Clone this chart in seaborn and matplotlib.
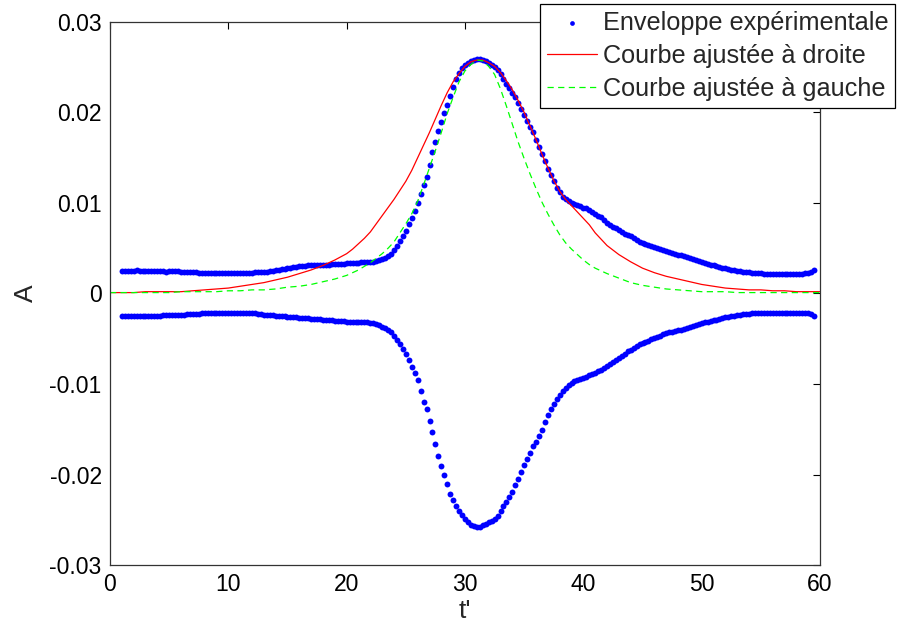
import numpy as np
import seaborn as sns
import matplotlib.pyplot as plt

# experimental envelope, sampled every 0.25 from t'=1 to t'=59.5 (values x 1e-4)
t_env = np.arange(1.0, 59.51, 0.25)
upper = [
    25, 25, 25, 25,  25, 26, 25, 25,  25, 25, 25, 25,  25, 25, 25, 24,  25, 25, 25, 25,
    24, 24, 24, 24,  24, 24, 23, 23,  23, 23, 23, 23,  23, 23, 23, 23,  23, 23, 23, 23,
    23, 23, 23, 23,  23, 24, 24, 24,  24, 24, 25, 25,  26, 26, 27, 27,  28, 28, 29, 29,
    30, 30, 30, 31,  31, 31, 31, 32,  32, 32, 32, 33,  33, 33, 33, 33,  34, 34, 34, 34,
    34, 35, 35, 35,  35, 35, 36, 37,  38, 39, 41, 44,  48, 53, 58, 63,  69, 77, 83, 91,
    100, 110, 120, 129,  142, 156, 167, 179,  190, 199, 208, 218,  228, 237, 244, 249,
    253, 255, 257, 258,  259, 259, 258, 257,  255, 253, 250, 247,  243, 237, 232, 227,
    222, 217, 210, 204,  197, 191, 184, 178,  170, 162, 154, 146,  138, 131, 124, 117,
    112, 107, 104, 102,  100, 99, 98, 97,  95, 94, 92, 90,  88, 86, 84, 81,  78, 76, 74, 72,
    70, 68, 66, 65,  63, 61, 59, 57,  56, 55, 54, 52,  51, 50, 49, 48,  47, 46, 45, 44,
    43, 42, 41, 40,  39, 38, 37, 36,  35, 34, 33, 32,  31, 30, 29, 28,  28, 27, 26, 26,
    25, 25, 24, 24,  24, 23, 23, 23,  23, 22, 22, 22,  22, 22, 22, 22,  22, 22, 22, 22,
    22, 22, 22, 23,  23, 24, 26,
]
lower = [
    -25, -25, -25, -25,  -25, -25, -25, -25,  -25, -25, -25, -25,  -25, -25, -24, -24,
    -24, -24, -24, -24,  -24, -24, -23, -23,  -23, -23, -23, -22,  -22, -22, -22, -22,
    -21, -21, -21, -21,  -21, -21, -21, -21,  -21, -21, -22, -22,  -22, -22, -23, -23,
    -24, -24, -24, -24,  -25, -25, -25, -25,  -26, -26, -26, -26,  -27, -27, -27, -27,
    -28, -28, -28, -28,  -29, -29, -29, -29,  -30, -30, -30, -30,  -31, -31, -31, -31,
    -32, -32, -32, -32,  -33, -33, -34, -35,  -37, -38, -40, -43,  -47, -51, -56, -61,
    -67, -74, -81, -88,  -96, -108, -120, -128,  -141, -153, -166, -180,
    -191, -200, -211, -221,  -228, -235, -240, -245,  -249, -253, -256, -257,
    -258, -258, -256, -255,  -253, -251, -249, -246,  -240, -235, -230, -225,
    -219, -212, -205, -197,  -190, -183, -176, -169,  -164, -158, -151, -142,
    -134, -128, -122, -117,  -112, -108, -104, -101,  -99, -97, -96, -94,
    -93, -92, -90, -89,  -88, -86, -84, -82,  -80, -78, -76, -74,  -71, -69, -67, -64,
    -62, -60, -58, -56,  -55, -54, -52, -50,  -49, -48, -47, -45,  -44, -43, -42, -41,
    -40, -40, -39, -38,  -37, -36, -35, -34,  -33, -32, -31, -30,  -29, -29, -28, -27,
    -26, -26, -25, -25,  -24, -24, -23, -23,  -23, -22, -22, -22,  -21, -21, -21, -21,
    -21, -21, -21, -21,  -21, -21, -21, -21,  -22, -22, -22, -22,  -22, -23, -25,
]

# fitted curves (values x 1e-4)
t_fit = ([float(v) for v in range(0, 20)]
         + [20 + 0.5 * i for i in range(45)]
         + [float(v) for v in range(43, 61)])
fit_right = [
    1, 1, 1, 2, 2, 2, 2, 3, 4, 5, 6, 8, 10, 12, 15, 18, 22, 26, 31, 37,
    44, 49, 55, 61, 68, 77, 86, 95, 104, 114, 124, 136, 150, 164, 178, 193,
    208, 222, 234, 243, 251, 256, 258, 258, 255, 251, 244, 235, 225, 213,
    200, 185, 170, 154, 139, 125, 113, 104, 97, 90, 83, 76, 67, 60, 53,
    43, 35, 28, 23, 19, 16, 13, 10, 8, 6, 5, 4, 4, 3, 3, 2, 2, 2,
]
fit_left = [
    1, 1, 1, 1, 1, 1, 2, 2, 2, 2, 3, 3, 4, 4, 5, 7, 8, 10, 13, 16,
    20, 23, 26, 30, 34, 39, 44, 50, 57, 67, 77, 88, 102, 120, 139, 158,
    178, 199, 217, 234, 246, 253, 258, 257, 251, 242, 226, 207, 187, 167,
    149, 132, 116, 101, 88, 76, 65, 56, 49, 43, 37, 32, 28, 25, 22,
    17, 12, 9, 7, 5, 4, 3, 2, 2, 2, 1, 1, 1, 1, 1, 1, 1, 1,
]
scale = 1e-4

x_ticks = [0, 10, 20, 30, 40, 50, 60]
y_ticks = [-0.03, -0.02, -0.01, 0, 0.01, 0.02, 0.03]
y_labels = ['-0.03', '-0.02', '-0.01', '0', '0.01', '0.02', '0.03']

sns.set_style('white')
plt.rcParams['font.family'] = ['Liberation Sans', 'DejaVu Sans']

fig = plt.figure(figsize=(8.97, 6.28), dpi=100)
ax = fig.add_axes([0.1226, 0.1003, 0.7916, 0.8647])

sns.scatterplot(x=t_env, y=np.array(upper) * scale, ax=ax, color='blue', s=18,
                linewidth=0, marker='o', label='Enveloppe expérimentale')
sns.scatterplot(x=t_env, y=np.array(lower) * scale, ax=ax, color='blue', s=18,
                linewidth=0, marker='o', label='_nolegend_')
sns.lineplot(x=t_fit, y=np.array(fit_right) * scale, ax=ax, color='red', lw=0.9,
             label='Courbe ajustée à droite')
sns.lineplot(x=t_fit, y=np.array(fit_left) * scale, ax=ax, color='#00ff00', lw=0.9,
             dashes=(5, 3.5), label='Courbe ajustée à gauche')

ax.set_xlim(0, 60)
ax.set_ylim(-0.03, 0.03)
ax.set_xticks(x_ticks)
ax.set_xticklabels([str(v) for v in x_ticks])
ax.set_yticks(y_ticks)
ax.set_yticklabels(y_labels)
ax.tick_params(direction='in', length=5, width=0.8, top=True, right=True,
               labelsize=16.5, pad=6, colors='black')
for sp in ax.spines.values():
    sp.set_visible(True)
    sp.set_color('#333333')
    sp.set_linewidth(0.9)

ax.set_xlabel("t'", fontsize=19, labelpad=2)
ax.set_ylabel('A', fontsize=19, labelpad=8)

leg = ax.legend(loc='upper right', bbox_to_anchor=(0.998, 0.994),
                bbox_transform=fig.transFigure, fontsize=18.2, frameon=True,
                fancybox=False, framealpha=1, edgecolor='black',
                borderpad=0.28, labelspacing=0.36, handlelength=2.0,
                handletextpad=0.2, borderaxespad=0, markerscale=0.8)
leg.get_frame().set_linewidth(0.9)

fig.savefig('out.png', dpi=100, facecolor='white')
